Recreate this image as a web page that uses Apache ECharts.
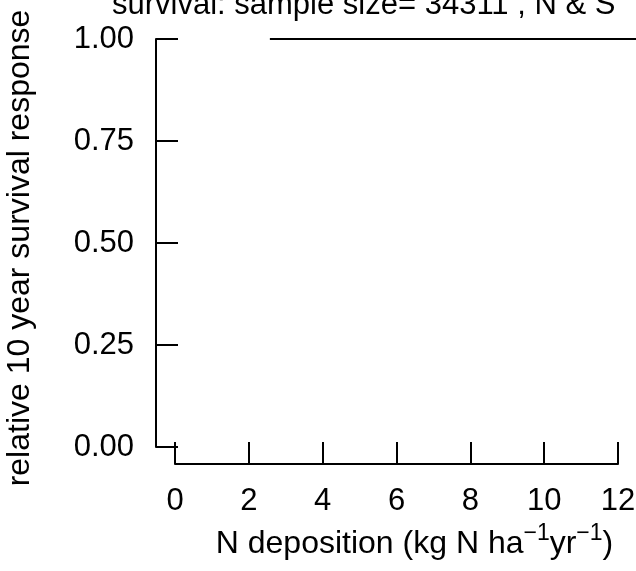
<!DOCTYPE html>
<html>
<head>
<meta charset="utf-8">
<script src="https://cdn.jsdelivr.net/npm/echarts@6/dist/echarts.min.js"></script>
<style>html,body{margin:0;padding:0;background:#fff;}#c{width:636px;height:571px;}</style>
</head>
<body>
<div id="c"></div>
<script>
const titleText = 'survival: sample size= 34311 , N & S';
const xTicks = [0, 2, 4, 6, 8, 10, 12];
const yTicks = [0, 0.25, 0.5, 0.75, 1];
const lineX = [2.57, 13];
const lineY = [1, 1];

const FONT = '"Liberation Sans", Arial, Helvetica, sans-serif';
const chart = echarts.init(document.getElementById('c'), null, {renderer: 'canvas'});
chart.setOption({
  animation: false,
  backgroundColor: '#fff',
  title: {
    text: titleText,
    left: 112, top: -10, padding: 0,
    textStyle: {fontFamily: FONT, fontSize: 31, fontWeight: 'normal', color: '#000'}
  },
  grid: {left: 175, right: 18, top: 39, bottom: 124, containLabel: false, outerBoundsMode: 'none'},
  xAxis: {
    type: 'value', min: xTicks[0], max: xTicks[xTicks.length - 1], interval: xTicks[1] - xTicks[0],
    offset: 17,
    axisLine: {show: true, onZero: false, lineStyle: {color: '#000', width: 2}},
    axisTick: {show: true, inside: true, length: 22, lineStyle: {color: '#000', width: 2}},
    axisLabel: {margin: 22, fontFamily: FONT, fontSize: 31, color: '#000',
      formatter: v => String(v)},
    splitLine: {show: false},
    name: '{a|N deposition (kg N ha}{s|\u22121}{a|yr}{s|\u22121}{a|)}',
    nameLocation: 'middle', nameGap: 60,
    nameTextStyle: {
      padding: [0, 0, 0, 36],
      rich: {
        a: {fontFamily: FONT, fontSize: 32, color: '#000', lineHeight: 36, verticalAlign: 'bottom'},
        s: {fontFamily: FONT, fontSize: 23, color: '#000', lineHeight: 23, verticalAlign: 'bottom', padding: [0, 0, 15, 0]}
      }
    }
  },
  yAxis: {
    type: 'value', min: yTicks[0], max: yTicks[yTicks.length - 1], interval: yTicks[1] - yTicks[0],
    offset: 19,
    axisLine: {show: true, onZero: false, lineStyle: {color: '#000', width: 2}},
    axisTick: {show: true, inside: true, length: 22, lineStyle: {color: '#000', width: 2}},
    axisLabel: {margin: 22, fontFamily: FONT, fontSize: 31, color: '#000', padding: [6, 0, 0, 0],
      formatter: v => v.toFixed(2)},
    splitLine: {show: false},
    name: 'relative 10 year survival response',
    nameLocation: 'middle', nameGap: 120,
    nameTextStyle: {fontFamily: FONT, fontSize: 32, color: '#000', padding: [0, 10, 0, 0]}
  },
  series: [{
    type: 'custom',
    clip: false,
    silent: true,
    data: [[lineX[0], lineY[0], lineX[1], lineY[1]]],
    encode: {x: [0, 2], y: [1, 3]},
    renderItem: function (params, api) {
      const p1 = api.coord([api.value(0), api.value(1)]);
      const p2 = api.coord([api.value(2), api.value(3)]);
      return {
        type: 'line',
        shape: {x1: p1[0], y1: p1[1], x2: p2[0], y2: p2[1]},
        style: {stroke: '#000', lineWidth: 2}
      };
    }
  }]
});
</script>
</body>
</html>
